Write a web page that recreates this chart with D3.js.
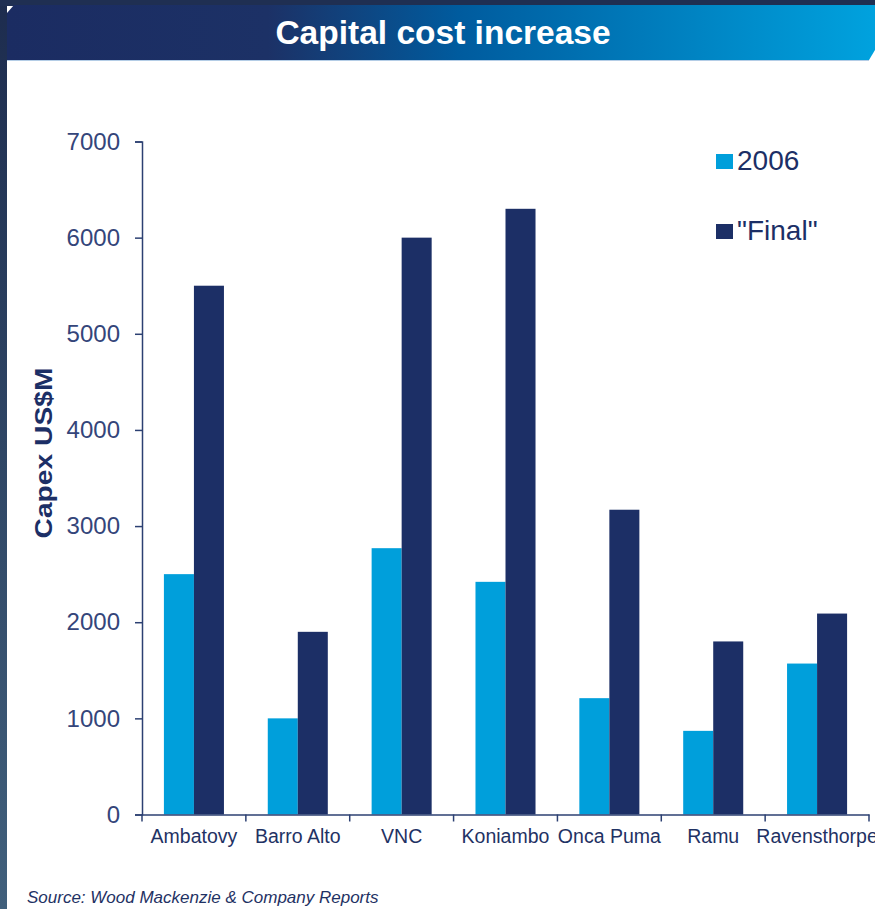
<!DOCTYPE html>
<html>
<head>
<meta charset="utf-8">
<script src="https://cdn.jsdelivr.net/npm/d3@7"></script>
<style>
  body { margin: 0; background: #fff; }
  svg { display: block; font-family: "Liberation Sans", Arial, sans-serif; }
</style>
</head>
<body>
<script>
const projects = ['Ambatovy', 'Barro Alto', 'VNC', 'Koniambo', 'Onca Puma', 'Ramu', 'Ravensthorpe']
const capex2006 = [2500, 1000, 2770, 2420, 1210, 870, 1570]
const capexFinal = [5500, 1900, 6000, 6300, 3170, 1800, 2090]
const seriesNames = ['2006', '"Final"']
const seriesColors = ['#009fdb', '#1c2f66']
const yTicks = [0, 1000, 2000, 3000, 4000, 5000, 6000, 7000]

const width = 875
const height = 909
const svg = d3.select('body').append('svg').attr('width', width).attr('height', height)
const defs = svg.append('defs')

// slide frame
const side = defs.append('linearGradient').attr('id', 'side').attr('x1', 0).attr('y1', 0).attr('x2', 0).attr('y2', 1)
side.append('stop').attr('offset', 0).attr('stop-color', '#1d2c4e')
side.append('stop').attr('offset', 1).attr('stop-color', '#41607c')
svg.append('rect').attr('x', 0).attr('y', 0).attr('width', 7).attr('height', height).attr('fill', 'url(#side)')
svg.append('rect').attr('x', 0).attr('y', 0).attr('width', width).attr('height', 6).attr('fill', '#1f2f52')

// title bar
const tg = defs.append('linearGradient').attr('id', 'tg').attr('x1', 0).attr('y1', 0).attr('x2', 1).attr('y2', 0)
tg.append('stop').attr('offset', 0).attr('stop-color', '#1b2c62')
tg.append('stop').attr('offset', 0.3).attr('stop-color', '#1c3166')
tg.append('stop').attr('offset', 0.52).attr('stop-color', '#005b9e')
tg.append('stop').attr('offset', 1).attr('stop-color', '#00a2de')
svg.append('polygon')
   .attr('points', '7,13 14,5 875,5 875,50 869,60 7,60')
   .attr('fill', 'url(#tg)')
svg.append('line').attr('x1', 7).attr('x2', 869).attr('y1', 60.5).attr('y2', 60.5)
   .attr('stroke', '#b4cde6').attr('stroke-width', 1)
svg.append('text').attr('x', 443).attr('y', 44).attr('text-anchor', 'middle')
   .attr('fill', '#fff').style('font-weight', 'bold').style('font-size', '33.5px')
   .text('Capital cost increase')

// scales
const x = d3.scaleBand().domain(projects).range([142, 869])
const x1 = d3.scaleBand().domain(seriesNames).range([0, x.bandwidth()]).paddingOuter(0.73)
const y = d3.scaleLinear().domain([0, 7000]).range([814.5, 141.5])

const rows = projects.map((p, i) => ({ name: p, values: [capex2006[i], capexFinal[i]] }))
const groups = svg.selectAll('g.grp').data(rows).enter().append('g')
   .attr('class', 'grp')
   .attr('transform', d => 'translate(' + x(d.name) + ',0)')
groups.selectAll('rect').data(d => d.values.map((v, j) => ({ key: seriesNames[j], v: v, c: seriesColors[j] })))
   .enter().append('rect')
   .attr('x', d => x1(d.key))
   .attr('y', d => y(d.v))
   .attr('width', x1.bandwidth())
   .attr('height', d => y(0) - y(d.v))
   .attr('fill', d => d.c)

// axes
const axisColor = '#2c4072'
const yAxis = d3.axisLeft(y).tickValues(yTicks).tickSize(7).tickPadding(15).tickFormat(d3.format('d'))
const gy = svg.append('g').attr('transform', 'translate(142,0)').call(yAxis)
gy.select('.domain').attr('stroke', axisColor).attr('stroke-width', 1.5)
gy.selectAll('.tick line').attr('stroke', axisColor).attr('stroke-width', 1.5)
gy.selectAll('text').attr('fill', '#34457a').style('font-size', '24px').style('font-family', '"Liberation Sans", Arial, sans-serif')

const xAxis = d3.axisBottom(x).tickSize(0).tickPadding(14.5)
const gx = svg.append('g').attr('transform', 'translate(0,' + y(0) + ')').call(xAxis)
gx.select('.domain').attr('stroke', axisColor).attr('stroke-width', 1.5)
gx.selectAll('text').attr('fill', '#1f3264').style('font-size', '19.5px').style('font-family', '"Liberation Sans", Arial, sans-serif')
const bounds = projects.map(p => x(p)).concat([x.range()[1]])
gx.selectAll('line.bound').data(bounds).enter().append('line')
   .attr('class', 'bound')
   .attr('x1', d => d).attr('x2', d => d)
   .attr('y1', 0).attr('y2', 7)
   .attr('stroke', axisColor).attr('stroke-width', 1.5)

// y label
svg.append('text')
   .attr('transform', 'translate(52,453) rotate(-90)')
   .attr('text-anchor', 'middle')
   .attr('fill', '#1c2f66')
   .style('font-weight', 'bold').style('font-size', '24px')
   .attr('textLength', 171).attr('lengthAdjust', 'spacingAndGlyphs')
   .text('Capex US$M')

// legend
const legend = svg.selectAll('g.leg').data(seriesNames).enter().append('g')
   .attr('class', 'leg')
   .attr('transform', (d, i) => 'translate(716,' + (154 + i * 70) + ')')
legend.append('rect').attr('width', 17).attr('height', 15).attr('fill', (d, i) => seriesColors[i])
legend.append('text').attr('x', 21).attr('y', 16).attr('fill', '#1c2f66')
   .style('font-size', '28px').text(d => d)

// source
svg.append('text').attr('x', 27).attr('y', 903)
   .attr('fill', '#1f3264').style('font-style', 'italic').style('font-size', '17px')
   .text('Source: Wood Mackenzie & Company Reports')
</script>
</body>
</html>
